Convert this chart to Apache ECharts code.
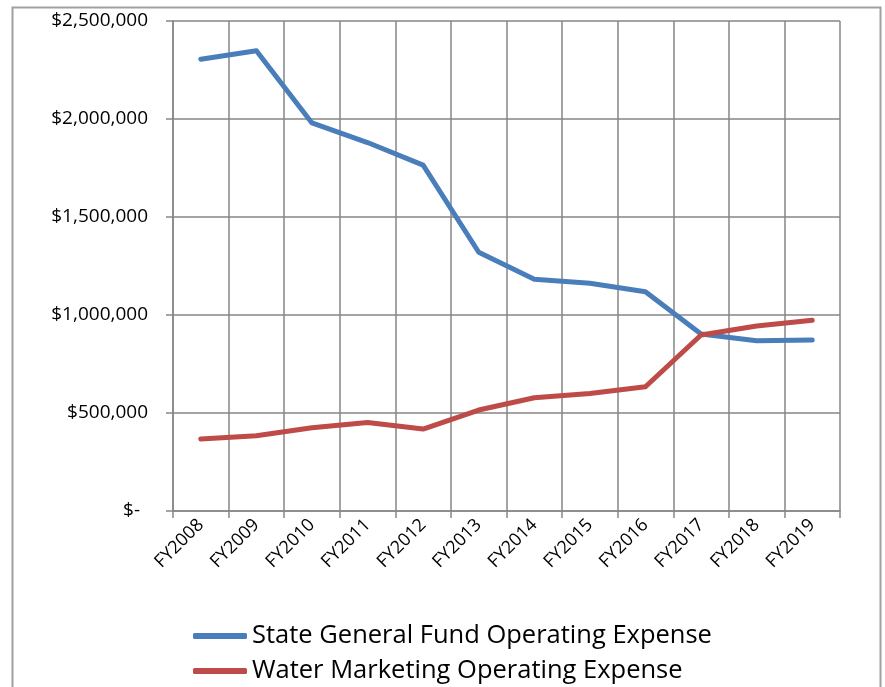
<!DOCTYPE html>
<html><head><meta charset="utf-8">
<script src="https://cdn.jsdelivr.net/npm/echarts@6/dist/echarts.min.js"></script>
<style>html,body{margin:0;padding:0;background:#fff}#c{width:885px;height:687px}</style>
</head><body><div id="c"></div>
<script>
const categories = ['FY2008','FY2009','FY2010','FY2011','FY2012','FY2013','FY2014','FY2015','FY2016','FY2017','FY2018','FY2019'];
const stateGeneralFund = [2305000, 2348000, 1980000, 1880000, 1765000, 1320000, 1182000, 1162000, 1119000, 903000, 869000, 872000];
const waterMarketing = [367000, 384000, 425000, 452000, 418000, 515000, 578000, 600000, 634000, 898000, 944000, 973000];
const seriesNames = ['State General Fund Operating Expense', 'Water Marketing Operating Expense'];
const yTicks = {min: 0, max: 2500000, interval: 500000};

const chart = echarts.init(document.getElementById('c'));
const FONT = 'Open Sans';
function money(v){
  if (v === 0) return '{z|$-}';
  return '$' + v.toLocaleString('en-US');
}
chart.setOption({
  animation: false,
  backgroundColor: '#fff',
  graphic: [{
    type: 'rect', left: 10, top: 5, shape: {width: 868, height: 700},
    style: {fill: 'none', stroke: '#a0a0a0', lineWidth: 2}, silent: true, z: -1
  }],
  grid: {left: 173, right: 45, top: 21, bottom: 176, outerBoundsMode: 'none', containLabel: false},
  xAxis: {
    type: 'category', data: categories, boundaryGap: true,
    axisLine: {show: true, lineStyle: {color: '#868686', width: 1.5}},
    axisTick: {show: true, length: 7, interval: 0, lineStyle: {color: '#868686', width: 1.5}},
    splitLine: {show: true, interval: 0, lineStyle: {color: '#868686', width: 1.5}},
    axisLabel: {rotate: 45, interval: 0, margin: 11, color: '#000', fontFamily: FONT, fontSize: 18}
  },
  yAxis: {
    type: 'value', min: yTicks.min, max: yTicks.max, interval: yTicks.interval,
    axisLine: {show: true, lineStyle: {color: '#868686', width: 1.5}},
    axisTick: {show: true, length: 7, lineStyle: {color: '#868686', width: 1.5}},
    splitLine: {show: true, lineStyle: {color: '#868686', width: 1.5}},
    axisLabel: {margin: 25, color: '#000', fontFamily: FONT, fontSize: 19, formatter: money,
      rich: {z: {fontFamily: FONT, fontSize: 19, color: '#000', padding: [0, 8, 0, 0]}}}
  },
  legend: {
    orient: 'vertical', left: 188, top: 618, width: 650, height: 200, itemGap: 9,
    itemWidth: 54, itemHeight: 6, icon: 'roundRect',
    textStyle: {fontFamily: FONT, fontSize: 25.5, color: '#000'},
    data: seriesNames
  },
  series: [
    {name: seriesNames[0], type: 'line', data: stateGeneralFund, symbol: 'none',
     lineStyle: {color: '#4a7ebb', width: 5, cap: 'round', join: 'round'}, itemStyle: {color: '#4a7ebb'}},
    {name: seriesNames[1], type: 'line', data: waterMarketing, symbol: 'none',
     lineStyle: {color: '#be4b48', width: 5, cap: 'round', join: 'round'}, itemStyle: {color: '#be4b48'}}
  ]
});
</script></body></html>
